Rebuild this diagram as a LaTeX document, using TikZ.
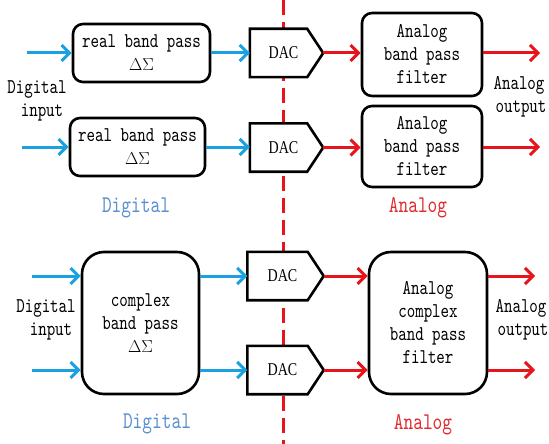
\documentclass[tikz,border=0pt]{standalone}
\usepackage{fontspec}
\setmainfont{lmmono10-regular.otf}[FakeStretch=0.77]
\newfontfamily\dacfont{Liberation Serif}[FakeStretch=0.78]
\usetikzlibrary{arrows.meta}
\definecolor{arrblue}{HTML}{1BA1E2}
\definecolor{lblblue}{HTML}{5B8FD0}
\definecolor{arrred}{HTML}{E8141C}
\definecolor{lblred}{HTML}{E02A2E}
\newcommand{\dsig}{{\fontsize{17}{23}\selectfont$\Delta\Sigma$}}
\tikzset{
  txt/.style={font=\fontsize{21}{23}\selectfont, align=center, inner sep=0pt},
  box/.style={txt, draw, line width=2.6pt, rounded corners=10pt},
  bigbox/.style={box, rounded corners=22pt},
  dacnode/.style={minimum width=73pt, minimum height=48pt, inner sep=0pt, font=\dacfont\fontsize{18}{20}\selectfont},
  dacshape/.style={draw, line width=2.6pt, line join=miter},
  barrow/.style={draw=arrblue, line width=3pt, -{Straight Barb[length=8pt,width=16pt,line width=3pt]}},
  rarrow/.style={draw=arrred, line width=3pt, -{Straight Barb[length=8pt,width=16pt,line width=3pt]}},
  bluelbl/.style={font=\fontsize{24}{25}\selectfont, text=lblblue, inner sep=0pt},
  redlbl/.style={font=\fontsize{24}{25}\selectfont, text=lblred, inner sep=0pt},
  divider/.style={draw=arrred, line width=3pt, dash pattern=on 15pt off 7pt}
}
\newcommand{\dacdraw}[1]{\draw[dacshape] (#1.north west) -- ([xshift=-16pt]#1.north east) -- (#1.east) -- ([xshift=-16pt]#1.south east) -- (#1.south west) -- cycle;}
\begin{document}
\begin{tikzpicture}[x=1pt,y=-1pt]
\useasboundingbox (0,0) rectangle (549,444);
% divider
\coordinate (dtop) at (283,0);
\coordinate (dbot) at (283,444);
\draw[divider] (dtop) -- (dbot);

% ---------- top part ----------
\node[box, minimum width=137pt, minimum height=58pt] (rb1) at (141.5,53) {real band pass\\\dsig};
\node[box, minimum width=135pt, minimum height=58pt] (rb2) at (137.5,147) {real band pass\\\dsig};
\node[dacnode, fill=white] (d1) at (286.5,53) {};
\node[dacnode, fill=white] (d2) at (286.5,147.5) {};
\dacdraw{d1}
\dacdraw{d2}
\node[dacnode] at (d1) {\hspace*{-6pt}DAC};
\node[dacnode] at (d2) {\hspace*{-6pt}DAC};
\node[box, minimum width=120pt, minimum height=83pt] (f1) at (422,54.5) {Analog\\band pass\\filter};
\node[box, minimum width=120pt, minimum height=81pt] (f2) at (422,146.5) {Analog\\band pass\\filter};

\coordinate (i1) at (27,53);
\coordinate (i2) at (22,147);
\coordinate (o1) at (540,53);
\coordinate (o2) at (540,147);
\draw[barrow] (i1) -- (rb1.west);
\draw[barrow] (i2) -- (rb2.west);
\draw[barrow] (rb1.east) -- (d1.west);
\draw[barrow] (rb2.east) -- (rb2.east -| d2.west);
\draw[rarrow] (d1.east) -- (d1.east -| f1.west);
\draw[rarrow] (d2.east) -- (d2.east -| f2.west);
\draw[rarrow] (f1.east |- o1) -- (o1);
\draw[rarrow] (f2.east |- o2) -- (o2);

\node[txt] (din1) at (37,101) {Digital\\\hspace*{10pt}input};
\node[txt] (aout1) at (519,97) {Analog\\\hspace*{4pt}output};
\node[bluelbl] (dl1) at (136,208) {Digital};
\node[redlbl] (al1) at (418,208) {Analog};

% ---------- bottom part ----------
\node[bigbox, minimum width=117pt, minimum height=142pt] (cb) at (140.5,323) {complex\\band pass\\\dsig};
\node[dacnode, minimum width=76pt, fill=white] (d3) at (285.5,276) {};
\node[dacnode, minimum width=76pt, fill=white] (d4) at (285.5,370) {};
\dacdraw{d3}
\dacdraw{d4}
\node[dacnode] at (d3) {\hspace*{-6pt}DAC};
\node[dacnode] at (d4) {\hspace*{-6pt}DAC};
\node[bigbox, minimum width=118pt, minimum height=142pt] (cf) at (428,323) {Analog\\complex\\band pass\\filter};

\coordinate (i3) at (32,276);
\coordinate (i4) at (32,370);
\coordinate (o3) at (535,276);
\coordinate (o4) at (535,370);
\draw[barrow] (i3) -- (i3 -| cb.west);
\draw[barrow] (i4) -- (i4 -| cb.west);
\draw[barrow] (cb.east |- d3.west) -- (d3.west);
\draw[barrow] (cb.east |- d4.west) -- (d4.west);
\draw[rarrow] (d3.east) -- (d3.east -| cf.west);
\draw[rarrow] (d4.east) -- (d4.east -| cf.west);
\draw[rarrow] (cf.east |- o3) -- (o3);
\draw[rarrow] (cf.east |- o4) -- (o4);

\node[txt] (din2) at (46,320) {Digital\\\hspace*{10pt}input};
\node[txt] (aout2) at (521,320) {Analog\\\hspace*{4pt}output};
\node[bluelbl] (dl2) at (157,424) {Digital};
\node[redlbl] (al2) at (423,425) {Analog};
\end{tikzpicture}
\end{document}
